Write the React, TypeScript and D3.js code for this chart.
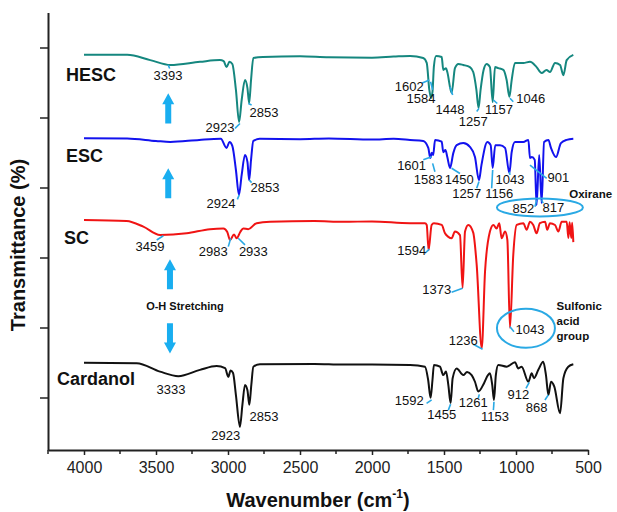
import { useEffect, useRef } from "react";
import { scaleLinear, line, curveMonotoneX, axisBottom, axisLeft, select } from "d3";

////
///// layout
const W = 617;
const H = 512;
const LEFT = 48;
const RIGHT = 588;
const TOP = 12;
const BOTTOM = 450;
const FONT = "Arial, 'Liberation Sans', sans-serif";

////
///// spectra: [wavenumber cm-1, transmittance a.u. (stacked)]
const hesc: [number, number][] = [
  [4000, 112.9], [3700, 112.9], [3540, 111.4], [3400, 110.0], [3195, 110.9],
  [3056, 111.4], [3030, 111.1], [3010, 109.4], [2990, 110.9], [2970, 110.3],
  [2945, 102.9], [2923, 93.7], [2905, 100.0], [2882, 105.7], [2865, 103.4],
  [2853, 99.1], [2840, 105.7], [2824, 112.0], [2757, 112.3], [2500, 112.5],
  [2300, 112.2], [2000, 112.1], [1850, 112.4], [1736, 112.6], [1644, 112.0],
  [1620, 110.6], [1602, 102.9], [1590, 100.6], [1580, 102.3], [1570, 109.7],
  [1555, 112.6], [1516, 112.3], [1505, 108.6], [1486, 109.1], [1477, 108.0],
  [1447, 102.0], [1424, 109.1], [1400, 110.3], [1366, 110.0], [1320, 109.4],
  [1297, 108.0], [1275, 102.9], [1260, 97.7], [1246, 102.9], [1225, 108.6],
  [1204, 110.3], [1181, 109.4], [1162, 99.4], [1146, 109.4], [1123, 109.1],
  [1088, 108.6], [1065, 105.7], [1046, 100.9], [1030, 105.7], [1007, 110.6],
  [949, 110.6], [903, 110.9], [857, 109.4], [822, 107.7], [788, 108.6],
  [764, 108.0], [729, 110.6], [694, 110.0], [671, 107.1], [648, 111.4], [602, 112.9],
];
const esc: [number, number][] = [
  [4000, 89.1], [3700, 89.0], [3500, 88.3], [3400, 88.0], [3200, 88.6],
  [3050, 88.9], [3010, 86.3], [2990, 88.0], [2970, 86.9], [2945, 80.0],
  [2924, 72.9], [2905, 78.6], [2882, 84.3], [2865, 82.3], [2853, 77.1],
  [2840, 82.9], [2824, 88.3], [2780, 88.9], [2500, 88.8], [2300, 89.0],
  [2000, 88.7], [1850, 88.9], [1736, 88.6], [1644, 88.3], [1609, 86.3],
  [1595, 83.4], [1585, 84.9], [1575, 84.3], [1562, 88.6], [1516, 88.1],
  [1505, 85.1], [1490, 85.7], [1477, 83.7], [1458, 80.6], [1435, 84.9],
  [1412, 87.1], [1366, 87.7], [1320, 86.6], [1285, 83.7], [1257, 77.1],
  [1240, 81.4], [1199, 88.0], [1176, 87.1], [1162, 80.6], [1144, 87.1],
  [1111, 87.1], [1076, 86.3], [1046, 79.1], [1030, 85.1], [1007, 88.0],
  [949, 88.0], [914, 88.6], [903, 83.4], [890, 83.7], [870, 82.9],
  [857, 70.0], [839, 84.3], [822, 70.6], [805, 88.0], [775, 88.6],
  [757, 86.3], [722, 83.7], [688, 87.7], [648, 88.6], [602, 88.9],
];
const sc: [number, number][] = [
  [4000, 65.7], [3704, 65.4], [3588, 63.8], [3472, 61.4], [3287, 61.9],
  [3125, 63.1], [3032, 63.3], [3005, 62.3], [2986, 60.0], [2958, 61.6],
  [2940, 60.5], [2915, 62.3], [2894, 63.3], [2860, 63.1], [2801, 64.8],
  [2708, 65.2], [2400, 65.4], [2200, 65.2], [2000, 65.3], [1736, 64.8],
  [1632, 64.8], [1620, 64.3], [1607, 57.1], [1586, 64.3], [1570, 64.8],
  [1516, 64.3], [1493, 61.9], [1470, 60.9], [1447, 60.5], [1424, 62.4],
  [1389, 61.4], [1371, 46.3], [1354, 62.4], [1331, 64.3], [1297, 62.1],
  [1273, 52.9], [1238, 29.1], [1215, 51.0], [1181, 62.4], [1157, 64.3],
  [1135, 63.3], [1116, 64.8], [1100, 60.5], [1076, 62.4], [1060, 60.0],
  [1042, 34.9], [1019, 55.7], [995, 64.3], [949, 64.8], [926, 62.9],
  [903, 65.2], [880, 64.3], [857, 61.9], [834, 64.8], [798, 65.2],
  [783, 62.9], [764, 64.8], [729, 64.3], [706, 62.4], [683, 65.2],
  [648, 65.2], [636, 60.6], [628, 65.1], [616, 60.6], [610, 64.9], [602, 59.4],
];
const cardanol: [number, number][] = [
  [4000, 24.9], [3634, 24.8], [3472, 22.4], [3345, 21.1], [3195, 22.9],
  [3079, 24.0], [3020, 23.4], [2998, 20.9], [2982, 22.7], [2965, 22.0],
  [2945, 15.7], [2917, 6.6], [2900, 12.9], [2882, 18.6], [2865, 17.1],
  [2852, 12.9], [2838, 18.6], [2824, 23.8], [2778, 24.5], [2400, 24.6],
  [2200, 24.4], [2000, 24.4], [1736, 24.3], [1632, 23.8], [1610, 20.0],
  [1593, 14.9], [1580, 20.0], [1570, 24.3], [1528, 23.8], [1505, 21.4],
  [1486, 22.4], [1470, 18.6], [1454, 13.4], [1440, 20.5], [1412, 23.3],
  [1366, 21.4], [1340, 22.3], [1308, 21.4], [1285, 19.5], [1262, 16.7],
  [1222, 19.1], [1195, 21.4], [1181, 21.9], [1165, 18.6], [1153, 14.3],
  [1140, 21.4], [1123, 24.3], [1065, 23.8], [1007, 25.1], [984, 23.3],
  [961, 23.8], [914, 19.5], [891, 21.9], [875, 20.5], [845, 22.9],
  [811, 25.2], [792, 21.4], [775, 15.7], [757, 19.5], [734, 18.1],
  [694, 10.5], [671, 20.5], [637, 23.8], [602, 24.5],
];

////
///// peak labels: [text, labelWn, labelT, leaderWn1, leaderT1, leaderWn2, leaderT2]
type Peak = [string, number, number, number, number, number, number];
const hescPeaks: Peak[] = [
  ["3393", 3417, 105.7, 3415, 110.0, 3405, 109.0],
  ["2923", 3056, 90.8, 2951, 91.9, 2917, 93.3],
  ["2853", 2750, 95.1, 2859, 99.0, 2836, 98.6],
  ["1602", 1741, 102.7, 1655, 104.8, 1602, 105.7],
  ["1584", 1660, 99.1, 1593, 105.2, 1579, 102.9],
  ["1448", 1458, 96.1, 1458, 103.8, 1440, 101.4],
  ["1257", 1297, 92.7, 1273, 96.7, 1257, 97.6],
  ["1157", 1118, 96.1, 1157, 100.0, 1130, 99.0],
  ["1046", 898, 99.1, 1042, 100.5, 1019, 99.5],
];
const escPeaks: Peak[] = [
  ["2924", 3049, 69.2, 2935, 71.6, 2922, 72.9],
  ["2853", 2743, 73.7, 2852, 77.1, 2836, 76.4],
  ["1601", 1725, 80.0, 1644, 82.9, 1586, 83.8],
  ["1583", 1609, 75.9, 1579, 81.9, 1563, 79.5],
  ["1450", 1394, 75.9, 1447, 80.5, 1389, 79.0],
  ["1257", 1342, 71.9, 1273, 74.8, 1257, 76.7],
  ["1156", 1116, 71.9, 1169, 74.8, 1162, 80.0],
  ["1043", 1042, 76.1, 1046, 79.5, 1042, 78.6],
  ["901", 706, 76.5, 903, 81.4, 787, 77.6],
  ["852", 949, 67.8, 868, 69.5, 857, 71.4],
  ["817", 741, 67.9, 822, 71.4, 811, 70.5],
];
const scPeaks: Peak[] = [
  ["3459", 3542, 56.8, 3495, 60.0, 3449, 61.2],
  ["2983", 3102, 55.4, 2998, 58.1, 2981, 60.5],
  ["2933", 2824, 55.4, 2929, 60.5, 2882, 58.6],
  ["1594", 1724, 55.7, 1632, 56.2, 1602, 57.4],
  ["1373", 1551, 44.7, 1447, 45.1, 1371, 46.2],
  ["1236", 1366, 30.1, 1297, 30.2, 1232, 28.8],
  ["1043", 903, 33.2, 1042, 35.2, 1014, 33.8],
];
const cardanolPeaks: Peak[] = [
  ["3333", 3396, 15.9, 3396, 15.9, 3396, 15.9],
  ["2923", 3016, 2.8, 2917, 2.8, 2917, 2.8],
  ["2853", 2750, 8.2, 2750, 8.2, 2750, 8.2],
  ["1592", 1741, 12.8, 1621, 13.3, 1586, 14.3],
  ["1455", 1516, 9.0, 1470, 11.4, 1454, 13.1],
  ["1261", 1297, 12.2, 1262, 14.8, 1255, 15.9],
  ["1153", 1146, 8.4, 1157, 11.4, 1153, 13.8],
  ["912", 984, 14.7, 931, 17.6, 908, 19.3],
  ["868", 857, 10.8, 799, 14.3, 776, 15.7],
];

////
///// series: [name, data, peaks, color, nameWn, nameT]
const SERIES: [string, [number, number][], Peak[], string, number, number][] = [
  ["HESC", hesc, hescPeaks, "#15877f", 4125, 105.4],
  ["ESC", esc, escPeaks, "#1212ee", 4125, 82.4],
  ["SC", sc, scPeaks, "#f01414", 4139, 58.9],
  ["Cardanol", cardanol, cardanolPeaks, "#111111", 4187, 18.7],
];

// O-H arrows: [wn, tFrom(tail), tTo(tip)]
const arrows: [number, number, number][] = [
  [3415, 93.3, 101.9],
  [3415, 71.9, 80.5],
  [3403, 45.9, 54.5],
  [3403, 36.2, 27.6],
];

const xTicks = [4000, 3500, 3000, 2500, 2000, 1500, 1000, 500];
const xMinor = [4250, 3750, 3250, 2750, 2250, 1750, 1250, 750];
const yTicks = [15, 35, 55, 75, 95, 115];

const CYAN = "#2aa9e4";
const ARROW = "#19aef0";

/////
const x = scaleLinear().domain([4250, 500]).range([LEFT, RIGHT]);
const y = scaleLinear().domain([0, 125]).range([BOTTOM, TOP + 0.5]);
const path = line<[number, number]>()
  .x((d) => x(d[0]))
  .y((d) => y(d[1]))
  .curve(curveMonotoneX);

const arrowPath = (wn: number, t0: number, t1: number) => {
  const cx = x(wn);
  const y0 = y(t0);
  const y1 = y(t1);
  const dir = y1 < y0 ? -1 : 1;
  const head = 11;
  const hw = 6;
  const sw = 3;
  const yb = y1 - dir * head;
  return `M${cx - sw},${y0} L${cx - sw},${yb} L${cx - hw},${yb} L${cx},${y1} L${cx + hw},${yb} L${cx + sw},${yb} L${cx + sw},${y0} Z`;
};

export default function App() {
  const xAxisRef = useRef<SVGGElement>(null);
  const yAxisRef = useRef<SVGGElement>(null);
  //
  // @axes
  useEffect(() => {
    const gx = select(xAxisRef.current);
    gx.selectAll("*").remove();
    gx.call(
      axisBottom(x)
        .tickValues(xTicks)
        .tickFormat((d) => String(d))
        .tickSize(5)
        .tickSizeOuter(0)
        .tickPadding(7)
    );
    gx.append("g")
      .selectAll("line")
      .data(xMinor)
      .enter()
      .append("line")
      .attr("x1", (d) => x(d))
      .attr("x2", (d) => x(d))
      .attr("y1", 0)
      .attr("y2", 4)
      .attr("stroke", "#222")
      .attr("stroke-width", 1.5);
    gx.select(".domain").attr("stroke", "#222").attr("stroke-width", 2);
    gx.selectAll(".tick line").attr("stroke", "#222").attr("stroke-width", 1.5);
    gx.selectAll(".tick text")
      .attr("font-size", 16)
      .attr("font-family", FONT)
      .attr("fill", "#222");
    //
    const gy = select(yAxisRef.current);
    gy.selectAll("*").remove();
    gy.call(axisLeft(y).tickValues(yTicks).tickFormat(() => "").tickSize(8).tickSizeOuter(0));
    gy.select(".domain").attr("stroke", "#222").attr("stroke-width", 2);
    gy.selectAll(".tick line").attr("stroke", "#222").attr("stroke-width", 1.5);
  }, []);
  //
  return (
    <svg
      width={W}
      height={H}
      style={{ position: "absolute", left: 0, top: 0, background: "#fff" }}
      fontFamily={FONT}
    >
      <g ref={xAxisRef} transform={`translate(0,${BOTTOM})`} />
      <g ref={yAxisRef} transform={`translate(${LEFT},0)`} />
      {/* spectra */}
      {SERIES.map(([name, data, , color]) => (
        <path key={name} d={path(data) ?? ""} fill="none" stroke={color} strokeWidth={2} strokeLinejoin="round" />
      ))}
      {/* series names */}
      {SERIES.map(([name, , , , wn, t]) => (
        <text key={name + "-n"} x={x(wn)} y={y(t)} fontSize={18} fontWeight="bold" fill="#111">
          {name}
        </text>
      ))}
      {/* peak labels + leaders */}
      {SERIES.map(([name, , peaks]) =>
        peaks.map(([txt, lw, lt, w1, t1, w2, t2], i) => (
          <g key={name + i}>
            {(w1 !== w2 || t1 !== t2) && (
              <line x1={x(w1)} y1={y(t1)} x2={x(w2)} y2={y(t2)} stroke={CYAN} strokeWidth={1.6} />
            )}
            <text x={x(lw)} y={y(lt)} fontSize={13} textAnchor="middle" fill="#111">
              {txt}
            </text>
          </g>
        ))
      )}
      {/* highlight ellipses */}
      <ellipse cx={x(834)} cy={y(69.3)} rx={43} ry={9} fill="none" stroke={CYAN} strokeWidth={2} />
      <text x={x(630)} y={y(72.1)} fontSize={11.5} fontWeight="bold" fill="#111">Oxirane</text>
      <ellipse cx={x(931)} cy={y(34.8)} rx={29} ry={19.5} fill="none" stroke={CYAN} strokeWidth={2} />
      <g fontSize={11.5} fontWeight="bold" fill="#111">
        <text x={x(718)} y={y(40.1)}>Sulfonic</text>
        <text x={x(718)} y={y(35.7)}>acid</text>
        <text x={x(718)} y={y(31.4)}>group</text>
      </g>
      {/* O-H arrows */}
      {arrows.map(([wn, t0, t1], i) => (
        <path key={"a" + i} d={arrowPath(wn, t0, t1)} fill={ARROW} />
      ))}
      <text x={x(3299)} y={y(40.0)} fontSize={11} fontWeight="bold" textAnchor="middle" fill="#111">
        O-H Stretching
      </text>
      {/* axis titles */}
      <text x={318} y={507} fontSize={20} fontWeight="bold" textAnchor="middle" fill="#111">
        Wavenumber (cm<tspan dy={-9} fontSize={12}>-1</tspan>
        <tspan dy={9}>)</tspan>
      </text>
      <text
        transform={`translate(25,245) rotate(-90)`}
        fontSize={20}
        fontWeight="bold"
        textAnchor="middle"
        fill="#111"
      >
        Transmittance (%)
      </text>
    </svg>
  );
}
